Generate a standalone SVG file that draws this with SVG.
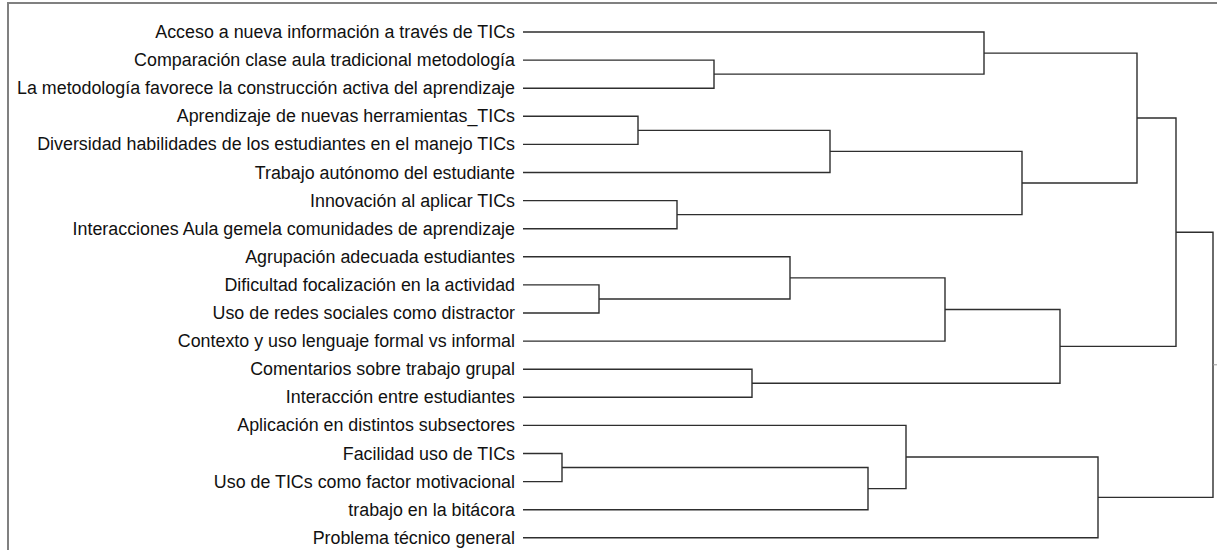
<svg xmlns="http://www.w3.org/2000/svg" width="1217" height="550" viewBox="0 0 1217 550">
<style>
.lbl{font-family:"Liberation Sans",Arial,sans-serif;font-size:17.85px;fill:#111;text-anchor:end}
.ln{fill:none;stroke:#2e2e2e;stroke-width:1.4}
.frame{fill:none;stroke:#808080;stroke-width:2}
</style>
<rect width="1217" height="550" fill="#fff"/>
<path class="frame" d="M8,551 V3 H1218"/>
<g id="nodes">
<g id="n1"><text class="lbl" x="515" y="38">Acceso a nueva información a través de TICs</text></g>
<g id="n2"><text class="lbl" x="515" y="66.1">Comparación clase aula tradicional metodología</text></g>
<g id="n3"><text class="lbl" x="515" y="94.2">La metodología favorece la construcción activa del aprendizaje</text></g>
<g id="n4"><text class="lbl" x="515" y="122.3">Aprendizaje de nuevas herramientas_TICs</text></g>
<g id="n5"><text class="lbl" x="515" y="150.4">Diversidad habilidades de los estudiantes en el manejo TICs</text></g>
<g id="n6"><text class="lbl" x="515" y="178.5">Trabajo autónomo del estudiante</text></g>
<g id="n7"><text class="lbl" x="515" y="206.6">Innovación al aplicar TICs</text></g>
<g id="n8"><text class="lbl" x="515" y="234.7">Interacciones Aula gemela comunidades de aprendizaje</text></g>
<g id="n9"><text class="lbl" x="515" y="262.8">Agrupación adecuada estudiantes</text></g>
<g id="n10"><text class="lbl" x="515" y="290.9">Dificultad focalización en la actividad</text></g>
<g id="n11"><text class="lbl" x="515" y="319">Uso de redes sociales como distractor</text></g>
<g id="n12"><text class="lbl" x="515" y="347.1">Contexto y uso lenguaje formal vs informal</text></g>
<g id="n13"><text class="lbl" x="515" y="375.2">Comentarios sobre trabajo grupal</text></g>
<g id="n14"><text class="lbl" x="515" y="403.3">Interacción entre estudiantes</text></g>
<g id="n15"><text class="lbl" x="515" y="431.4">Aplicación en distintos subsectores</text></g>
<g id="n16"><text class="lbl" x="515" y="459.5">Facilidad uso de TICs</text></g>
<g id="n17"><text class="lbl" x="515" y="487.6">Uso de TICs como factor motivacional</text></g>
<g id="n18"><text class="lbl" x="515" y="515.7">trabajo en la bitácora</text></g>
<g id="n19"><text class="lbl" x="515" y="543.8">Problema técnico general</text></g>
</g>
<g id="connectors">
<path class="ln" d="M523,60.1 H714 V88.2 H523"/>
<path class="ln" d="M523,32 H984 V74.15 H714"/>
<path class="ln" d="M523,116.3 H638 V144.4 H523"/>
<path class="ln" d="M638,130.35 H830 V172.5 H523"/>
<path class="ln" d="M523,200.6 H677 V228.7 H523"/>
<path class="ln" d="M830,151.4 H1022 V214.65 H677"/>
<path class="ln" d="M984,53.1 H1137 V183 H1022"/>
<path class="ln" d="M523,284.9 H599 V313 H523"/>
<path class="ln" d="M523,256.8 H790 V298.95 H599"/>
<path class="ln" d="M790,277.9 H945 V341.1 H523"/>
<path class="ln" d="M523,369.2 H752 V397.3 H523"/>
<path class="ln" d="M945,309.5 H1060 V383.25 H752"/>
<path class="ln" d="M1137,118.05 H1176 V346.4 H1060"/>
<path class="ln" d="M523,453.5 H562 V481.6 H523"/>
<path class="ln" d="M562,467.55 H868 V509.7 H523"/>
<path class="ln" d="M523,425.4 H906 V488.6 H868"/>
<path class="ln" d="M906,457 H1098 V537.8 H523"/>
<path class="ln" d="M1176,232.2 H1213 V497.4 H1098"/>
<path d="M1213,364.8 H1217" stroke="#9a9a9a" stroke-width="1"/>
</g>
</svg>
